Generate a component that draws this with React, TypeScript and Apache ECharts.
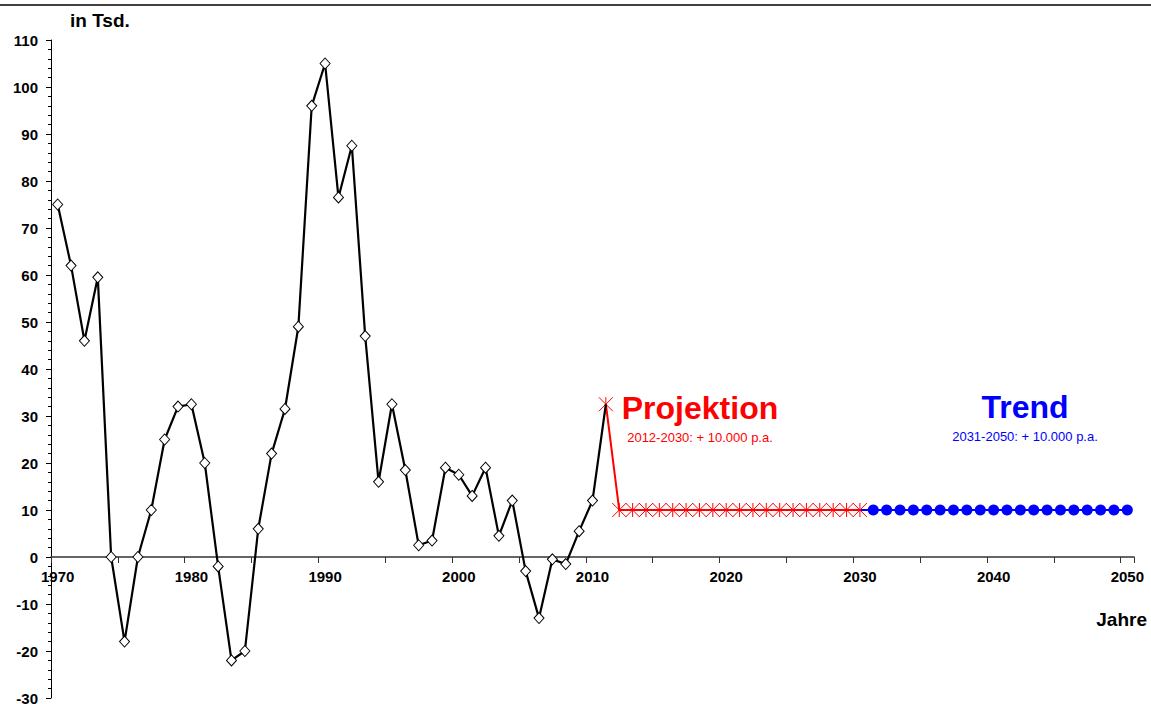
import React, { useEffect, useRef } from "react";
import * as echarts from "echarts";

// Years 1970..2050 (category axis)
const years: string[] = [
  "1970","1971","1972","1973","1974","1975","1976","1977","1978","1979",
  "1980","1981","1982","1983","1984","1985","1986","1987","1988","1989",
  "1990","1991","1992","1993","1994","1995","1996","1997","1998","1999",
  "2000","2001","2002","2003","2004","2005","2006","2007","2008","2009",
  "2010","2011","2012","2013","2014","2015","2016","2017","2018","2019",
  "2020","2021","2022","2023","2024","2025","2026","2027","2028","2029",
  "2030","2031","2032","2033","2034","2035","2036","2037","2038","2039",
  "2040","2041","2042","2043","2044","2045","2046","2047","2048","2049",
  "2050",
];

// Observed values 1970..2011 (in Tsd.)
const observed: number[] = [
  75, 62, 46, 59.5, 0, -18, 0, 10, 25, 32,
  32.5, 20, -2, -22, -20, 6, 22, 31.5, 49, 96,
  105, 76.5, 87.5, 47, 16, 32.5, 18.5, 2.5, 3.5, 19,
  17.5, 13, 19, 4.5, 12, -3, -13, -0.5, -1.5, 5.5,
  12, 32.5,
];

// Projection 2011..2030
const projectionStart = "2011";
const projection: number[] = [
  32.5, 10, 10, 10, 10, 10, 10, 10, 10, 10,
  10, 10, 10, 10, 10, 10, 10, 10, 10, 10,
];

// Trend 2030..2050
const trendStart = "2030";
const trend: number[] = [
  10, 10, 10, 10, 10, 10, 10, 10, 10, 10,
  10, 10, 10, 10, 10, 10, 10, 10, 10, 10, 10,
];

const yTicks = { min: -30, max: 110, interval: 10 };

const FONT = '"Liberation Sans", Arial, sans-serif';

const starPath = "path://M0,0L12,12M12,0L0,12M6,0L6,12";

const GRID = { left: 51, top: 40, width: 1083, height: 658 };

export default function App() {
  const ref = useRef<HTMLDivElement>(null);

  useEffect(() => {
    if (!ref.current) return;
    const chart = echarts.init(ref.current, undefined, { renderer: "svg" });

    const pIdx = years.indexOf(projectionStart);
    const tIdx = years.indexOf(trendStart);
    const blackData = observed.map((v, i) =>
      i === pIdx ? { value: v, symbol: "none" } : v
    );
    const redData = [...Array(pIdx).fill("-"), ...projection];
    const blueData = [
      ...Array(tIdx).fill("-"),
      ...trend.map((v, i) => (i === 0 ? { value: v, symbol: "none" } : v)),
    ];

    // distance of the zero line above the grid bottom
    const zeroOffset =
      ((0 - yTicks.min) / (yTicks.max - yTicks.min)) * GRID.height;

    const labelStyle = {
      color: "#000",
      fontFamily: FONT,
      fontWeight: "bold",
      fontSize: 15,
    };

    chart.setOption({
      animation: false,
      backgroundColor: "#ffffff",
      grid: {
        ...GRID,
        containLabel: false,
        outerBoundsMode: "none",
      },
      xAxis: [
        {
          type: "category",
          data: years,
          boundaryGap: true,
          axisLine: { onZero: true, lineStyle: { color: "#333333", width: 1.5 } },
          axisTick: {
            show: true,
            interval: (i: number) => i % 5 === 0,
            length: 6,
            lineStyle: { color: "#333333", width: 1 },
          },
          axisLabel: { show: false },
          splitLine: { show: false },
        },
        {
          type: "category",
          data: years,
          position: "bottom",
          offset: -zeroOffset,
          boundaryGap: true,
          axisLine: { show: false, onZero: false },
          axisTick: { show: false },
          axisLabel: {
            interval: (i: number) => i % 10 === 0,
            margin: 12,
            ...labelStyle,
          },
          splitLine: { show: false },
        },
      ],
      yAxis: {
        type: "value",
        min: yTicks.min,
        max: yTicks.max,
        interval: yTicks.interval,
        axisLine: { show: true, lineStyle: { color: "#000", width: 1 } },
        axisTick: { show: true, length: 5, lineStyle: { color: "#000" } },
        minorTick: { show: true, splitNumber: 5, length: 3, lineStyle: { color: "#000" } },
        axisLabel: { margin: 13, ...labelStyle },
        splitLine: { show: false },
      },
      series: [
        {
          name: "Trend",
          type: "line",
          data: blueData,
          z: 2,
          symbol: "circle",
          symbolSize: 11,
          showAllSymbol: true,
          itemStyle: { color: "#0000ff" },
          lineStyle: { color: "#0000ff", width: 2 },
        },
        {
          name: "Projektion",
          type: "line",
          data: redData,
          z: 3,
          symbol: starPath,
          symbolSize: 14,
          showAllSymbol: true,
          itemStyle: { color: "none", borderColor: "#ff0000", borderWidth: 1 },
          lineStyle: { color: "#ff0000", width: 2, join: "miter" },
        },
        {
          name: "Beobachtet",
          type: "line",
          data: blackData,
          z: 4,
          symbol: "diamond",
          symbolSize: [10, 11],
          showAllSymbol: true,
          itemStyle: { color: "#ffffff", borderColor: "#000000", borderWidth: 1 },
          lineStyle: { color: "#000000", width: 2.2 },
        },
      ],
      graphic: [
        {
          type: "line",
          shape: { x1: 0, y1: 5, x2: 1151, y2: 5 },
          style: { stroke: "#000", lineWidth: 1.5 },
        },
        {
          type: "text",
          x: 70,
          y: 20,
          style: {
            text: "in Tsd.",
            fill: "#000",
            font: `bold 19px ${FONT}`,
            textAlign: "left",
            textVerticalAlign: "middle",
          },
        },
        {
          type: "text",
          x: 1147,
          y: 619,
          style: {
            text: "Jahre",
            fill: "#000",
            font: `bold 19px ${FONT}`,
            textAlign: "right",
            textVerticalAlign: "middle",
          },
        },
        {
          type: "text",
          x: 700,
          y: 408,
          style: {
            text: "Projektion",
            fill: "#ff0000",
            font: `bold 32px ${FONT}`,
            textAlign: "center",
            textVerticalAlign: "middle",
          },
        },
        {
          type: "text",
          x: 700,
          y: 437,
          style: {
            text: "2012-2030: + 10.000 p.a.",
            fill: "#ff0000",
            font: `13px ${FONT}`,
            textAlign: "center",
            textVerticalAlign: "middle",
          },
        },
        {
          type: "text",
          x: 1025,
          y: 407,
          style: {
            text: "Trend",
            fill: "#0000ff",
            font: `bold 32px ${FONT}`,
            textAlign: "center",
            textVerticalAlign: "middle",
          },
        },
        {
          type: "text",
          x: 1025,
          y: 436,
          style: {
            text: "2031-2050: + 10.000 p.a.",
            fill: "#0000ff",
            font: `13px ${FONT}`,
            textAlign: "center",
            textVerticalAlign: "middle",
          },
        },
      ],
    });

    return () => chart.dispose();
  }, []);

  return (
    <div
      ref={ref}
      style={{ position: "absolute", left: 0, top: 0, width: 1151, height: 704 }}
    />
  );
}
